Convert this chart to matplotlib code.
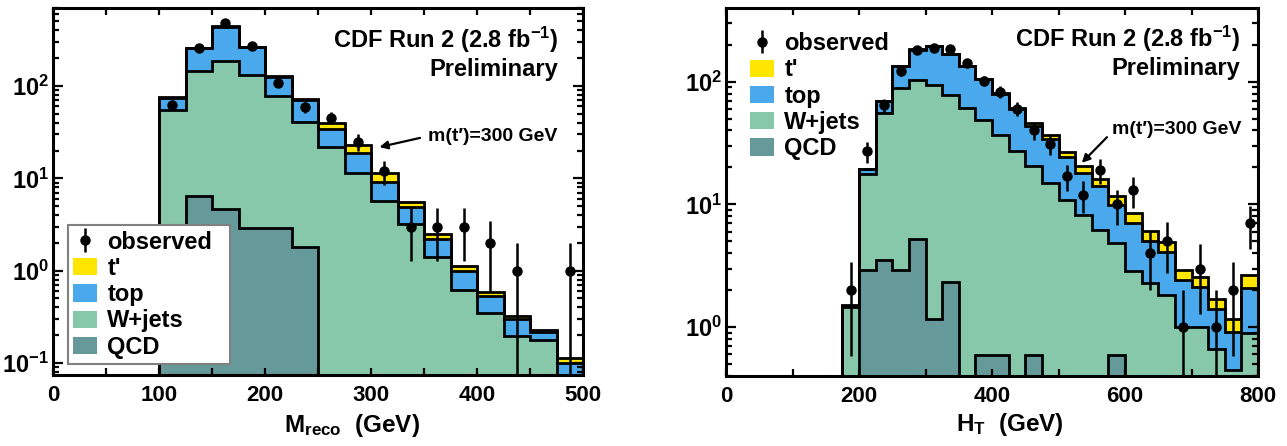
import numpy as np
import matplotlib
matplotlib.use('Agg')
import matplotlib.pyplot as plt
from matplotlib.ticker import LogLocator, MultipleLocator, NullFormatter, FuncFormatter
from matplotlib.patches import Patch

plt.rcParams['font.family'] = ['Liberation Sans', 'DejaVu Sans']
plt.rcParams['font.weight'] = 'bold'
plt.rcParams['mathtext.fontset'] = 'custom'
plt.rcParams['mathtext.rm'] = 'Liberation Sans:bold'
plt.rcParams['mathtext.bf'] = 'Liberation Sans:bold'
plt.rcParams['mathtext.it'] = 'Liberation Sans:bold'
plt.rcParams['mathtext.default'] = 'bf'

# ---------------- data: left panel (M_reco) ----------------
mreco_edges = np.arange(100, 501, 25)
mreco_qcd = [1.5, 6.4, 4.7, 2.9, 2.9, 1.8, 0, 0, 0, 0, 0, 0, 0, 0, 0, 0]
mreco_wjets = [53.5, 139.6, 183.3, 128.1, 74.1, 39.2, 22, 11.3, 5.7, 3.2, 1.41, 0.62, 0.344, 0.195, 0.178, 0.05]
mreco_top = [20, 110, 252, 131, 49, 29.5, 12, 7.3, 3.5, 1.73, 0.79, 0.38, 0.191, 0.105, 0.037, 0.05]
mreco_tprime = [0.5, 1, 2, 2, 2, 1.5, 6, 4.4, 2.1, 0.57, 0.28, 0.12, 0.055, 0.02, 0.015, 0.012]
mreco_obs = [63, 260, 485, 273, 107, 59, 45, 25, 12, 3, 3, 3, 2, 1, 0, 1]

# ---------------- data: right panel (H_T) ----------------
ht_edges = np.arange(175, 801, 25)
ht_qcd = [0, 2.9, 3.5, 2.9, 5.25, 1.17, 2.35, 0, 0.59, 0.59, 0, 0.59, 0, 0, 0, 0, 0.59, 0, 0, 0, 0, 0, 0, 0, 0]
ht_wjets = [1.47, 14.9, 52, 85.8, 98.8, 92.8, 75.7, 61, 48.4, 36.4, 27, 19.8, 14.9, 10.8, 8.2, 6.2, 4.24, 2.89, 2.31, 1.83, 1.0, 1.0, 0.67, 0.45, 0.89]
ht_top = [0.03, 1.7, 13.5, 44.3, 78, 100, 90, 72, 56, 43, 33, 23.3, 19.4, 13.5, 9.8, 7.8, 5.1, 4.15, 2.68, 2.3, 1.4, 1.14, 0.73, 0.47, 1.19]
ht_tprime = [0.02, 0.1, 0.3, 1, 1, 1, 1, 1, 0.5, 0.5, 0.5, 2.3, 2.6, 2.2, 2.6, 2.1, 1.82, 1.46, 1.11, 0.77, 0.53, 0.44, 0.29, 0.24, 0.59]
ht_obs = [2, 27, 64, 123, 182, 188, 185, 142, 102, 83, 60, 40, 31, 17, 12, 19, 10, 13, 4, 5, 1, 3, 1, 2, 7]

labels = ['t\'', 'top', 'W+jets', 'QCD']
colors = {'tprime': '#ffe600', 'top': '#4aa9ec', 'wjets': '#88c8aa', 'qcd': '#669999'}

W_, H_ = 1287, 446
fig = plt.figure(figsize=(W_ / 100, H_ / 100), dpi=100)


def axrect(x0, y0, x1, y1):
    return [x0 / W_, 1 - y1 / H_, (x1 - x0) / W_, (y1 - y0) / H_]


FLOOR = 1e-3
LW = 2.0


def draw_stack(ax, edges, qcd, wj, top, tp):
    layers = [np.array(qcd, float), np.array(wj, float), np.array(top, float), np.array(tp, float)]
    cols = [colors['qcd'], colors['wjets'], colors['top'], colors['tprime']]
    cums = np.cumsum(layers, axis=0)
    for cum, col in reversed(list(zip(cums, cols))):
        ax.stairs(np.maximum(cum, FLOOR), edges, baseline=FLOOR, fill=True,
                  facecolor=col, edgecolor='none', zorder=1)
    for cum in cums:
        ax.stairs(np.maximum(cum, FLOOR), edges, baseline=FLOOR, fill=False,
                  edgecolor='black', lw=LW, zorder=1.5)


def draw_obs(ax, edges, obs):
    obs = np.array(obs, float)
    centers = 0.5 * (edges[:-1] + edges[1:])
    m = obs > 0
    err = np.sqrt(obs[m])
    lo = obs[m] - np.clip(obs[m] - err, FLOOR, None)
    return ax.errorbar(centers[m], obs[m], yerr=[lo, err], fmt='o', color='black',
                       ms=6.5, elinewidth=1.8, capsize=0, zorder=4)


def logfmt(v, pos):
    e = int(round(np.log10(v)))
    return r'$10^{%d}$' % e


def style_axes(ax, xmaj, xmin):
    for s in ax.spines.values():
        s.set_linewidth(2.2)
        s.set_zorder(5)
    ax.set_yscale('log')
    ax.yaxis.set_major_locator(LogLocator(base=10, numticks=10))
    ax.yaxis.set_minor_locator(LogLocator(base=10, subs=np.arange(2, 10), numticks=10))
    ax.yaxis.set_major_formatter(FuncFormatter(logfmt))
    ax.yaxis.set_minor_formatter(NullFormatter())
    ax.xaxis.set_major_locator(MultipleLocator(xmaj))
    ax.xaxis.set_minor_locator(MultipleLocator(xmin))
    ax.tick_params(which='both', direction='in', top=True, right=True, width=1.6, zorder=5)
    ax.tick_params(axis='y', which='major', length=7, labelsize=17, pad=3)
    ax.tick_params(axis='y', which='minor', length=4)
    ax.tick_params(axis='x', which='both', length=5)
    ax.tick_params(axis='x', which='major', labelsize=16, pad=7)
    for lab in ax.get_xticklabels() + ax.get_yticklabels():
        lab.set_fontweight('bold')


# ---------------- left panel ----------------
axL = fig.add_axes(axrect(53, 8, 583, 375))
draw_stack(axL, mreco_edges, mreco_qcd, mreco_wjets, mreco_top, mreco_tprime)
ebL = draw_obs(axL, mreco_edges, mreco_obs)
axL.set_xlim(0, 500)
axL.set_ylim(0.074, 700)
style_axes(axL, 100, 50)

axL.text(0.954, 0.913, 'CDF Run 2 (2.8 fb$^{-1}$)', transform=axL.transAxes,
         ha='right', va='center', fontsize=17, fontweight='bold')
axL.text(0.954, 0.832, 'Preliminary', transform=axL.transAxes,
         ha='right', va='center', fontsize=17, fontweight='bold')
axL.annotate('m(t\u2032)=300 GeV', xy=(308, 21.8), xytext=(354, 28.7),
             ha='left', va='center', fontsize=14, fontweight='bold',
             arrowprops=dict(arrowstyle='-|>', color='black', lw=1.6,
                             mutation_scale=12, shrinkA=4, shrinkB=0,
                             relpos=(0, 0.5)))

handlesL = [ebL] + [Patch(facecolor=colors[k], edgecolor='none')
                    for k in ['tprime', 'top', 'wjets', 'qcd']]
legL = axL.legend(handlesL, ['observed'] + labels, loc='lower left',
                  bbox_to_anchor=(0.028, 0.03, 0.306, 0.38), mode='expand',
                  borderaxespad=0,
                  prop={'size': 17, 'weight': 'bold'}, frameon=True, fancybox=False,
                  edgecolor='#808080', framealpha=1, handlelength=1.0,
                  handleheight=0.75, handletextpad=0.45, labelspacing=0.14,
                  borderpad=0.22)
legL.get_frame().set_linewidth(1.5)
legL.set_zorder(6)

fig.text(352 / W_, 1 - 432 / H_, r'M$_{\mathbf{reco}}$  (GeV)', ha='center',
         va='baseline', fontsize=17.5, fontweight='bold')

# ---------------- right panel ----------------
axR = fig.add_axes(axrect(726, 8, 1258, 376))
draw_stack(axR, ht_edges, ht_qcd, ht_wjets, ht_top, ht_tprime)
ebR = draw_obs(axR, ht_edges, ht_obs)
axR.set_xlim(0, 800)
axR.set_ylim(0.40, 398)
style_axes(axR, 200, 100)

axR.text(0.966, 0.916, 'CDF Run 2 (2.8 fb$^{-1}$)', transform=axR.transAxes,
         ha='right', va='center', fontsize=17, fontweight='bold')
axR.text(0.966, 0.836, 'Preliminary', transform=axR.transAxes,
         ha='right', va='center', fontsize=17, fontweight='bold')
axR.annotate('m(t\u2032)=300 GeV', xy=(535, 21.8), xytext=(580, 40.5),
             ha='left', va='center', fontsize=14, fontweight='bold',
             arrowprops=dict(arrowstyle='-|>', color='black', lw=1.6,
                             mutation_scale=12, shrinkA=2, shrinkB=0,
                             relpos=(0, 0.35)))

handlesR = [ebR] + [Patch(facecolor=colors[k], edgecolor='none')
                    for k in ['tprime', 'top', 'wjets', 'qcd']]
legR = axR.legend(handlesR, ['observed'] + labels, loc='upper left',
                  bbox_to_anchor=(0.03, 0.957), borderaxespad=0,
                  prop={'size': 17, 'weight': 'bold'}, frameon=False,
                  handlelength=1.0, handleheight=0.75, handletextpad=0.45,
                  labelspacing=0.14, borderpad=0.35)
legR.set_zorder(6)

fig.text(1010 / W_, 1 - 431 / H_, r'H$_{\mathbf{T}}$  (GeV)', ha='center',
         va='baseline', fontsize=17.5, fontweight='bold')

fig.savefig('out.png', dpi=100)
